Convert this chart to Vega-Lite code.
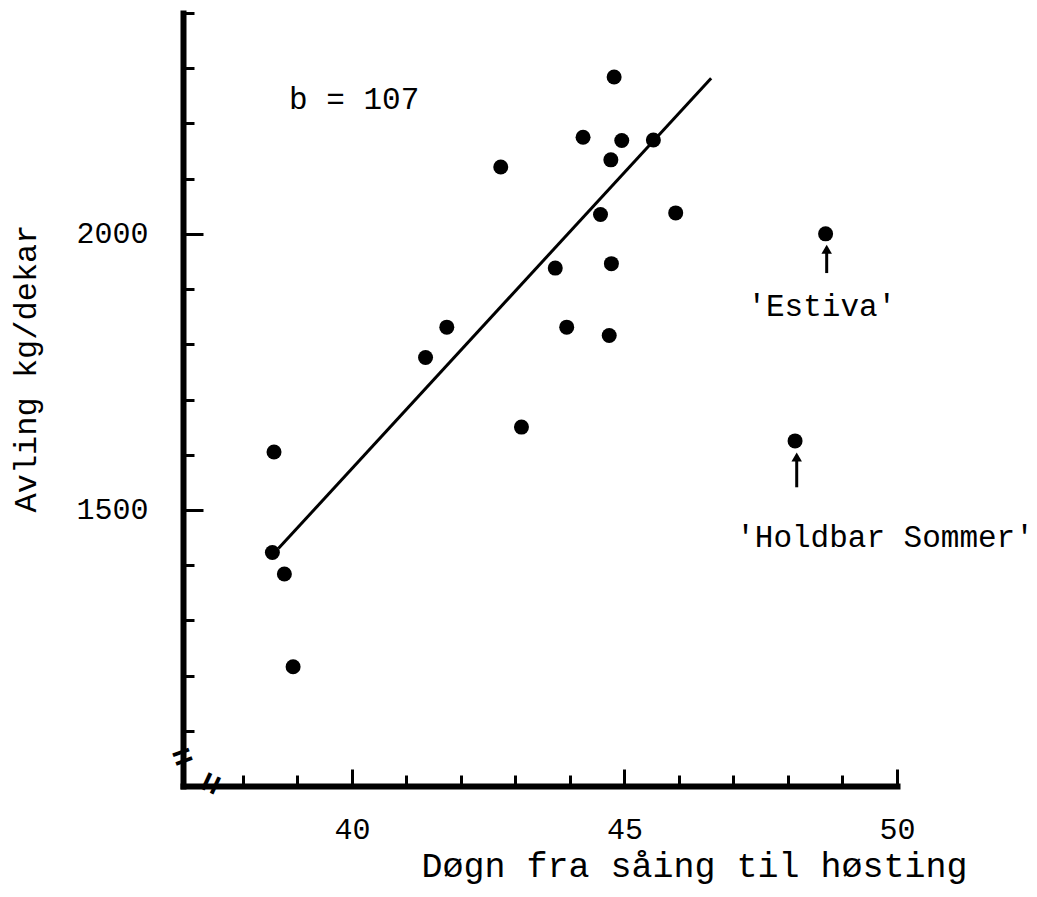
{
  "$schema": "https://vega.github.io/schema/vega-lite/v6.json",
  "width": 714,
  "height": 773,
  "autosize": {"type": "none"},
  "padding": {"left": 183, "top": 13, "right": 140, "bottom": 111},
  "background": "white",
  "config": {"view": {"stroke": null}, "font": "Liberation Mono"},
  "datasets": {
    "line": [
      {"dogn": 38.65, "avling": 1430},
      {"dogn": 46.59, "avling": 2282}
    ],
    "points": [
      {"dogn": 44.81, "avling": 2284},
      {"dogn": 44.24, "avling": 2175},
      {"dogn": 44.95, "avling": 2169},
      {"dogn": 45.53, "avling": 2170},
      {"dogn": 44.75, "avling": 2134},
      {"dogn": 42.73, "avling": 2121},
      {"dogn": 44.56, "avling": 2035},
      {"dogn": 45.94, "avling": 2038},
      {"dogn": 43.73, "avling": 1938},
      {"dogn": 44.76, "avling": 1946},
      {"dogn": 41.74, "avling": 1831},
      {"dogn": 43.94, "avling": 1831},
      {"dogn": 44.72, "avling": 1816},
      {"dogn": 41.35, "avling": 1776},
      {"dogn": 43.11, "avling": 1650},
      {"dogn": 38.57, "avling": 1605},
      {"dogn": 38.54, "avling": 1423},
      {"dogn": 38.76, "avling": 1384},
      {"dogn": 38.92, "avling": 1216},
      {"dogn": 48.69, "avling": 2000},
      {"dogn": 48.13, "avling": 1625}
    ],
    "arrows": [
      {"dogn": 48.71, "avling": 1929, "avling2": 1975},
      {"dogn": 48.16, "avling": 1541, "avling2": 1598}
    ],
    "heads": [
      {"dogn": 48.71, "avling": 1972},
      {"dogn": 48.16, "avling": 1596}
    ],
    "labels": [
      {"dogn": 40.04, "avling": 2242, "label": "b = 107"},
      {"dogn": 48.62, "avling": 1867, "label": "'Estiva'"},
      {"dogn": 49.78, "avling": 1449, "label": "'Holdbar Sommer'"}
    ],
    "ybreak": [
      {"dogn": 36.9, "avling": 1051, "label": "="}
    ],
    "xbreak": [
      {"dogn": 37.43, "avling": 1004, "label": "="}
    ]
  },
  "encoding": {
    "x": {
      "field": "dogn",
      "type": "quantitative",
      "scale": {"domain": [36.9, 50], "nice": false, "zero": false},
      "axis": {
        "title": "Døgn fra såing til høsting",
        "values": [38, 39, 40, 41, 42, 43, 44, 45, 46, 47, 48, 49, 50],
        "format": "d",
        "labelExpr": "datum.value % 5 === 0 ? datum.label : ''",
        "tickSize": {"condition": {"test": "datum.value % 5 === 0", "value": -17}, "value": -11},
        "tickWidth": 3,
        "tickColor": "black",
        "domainWidth": 6,
        "domainColor": "black",
        "domainCap": "square",
        "grid": false,
        "labelFont": "Liberation Mono",
        "labelFontSize": 30,
        "labelColor": "black",
        "labelPadding": 45,
        "labelFlush": false,
        "labelOverlap": false,
        "titleFont": "Liberation Mono",
        "titleFontSize": 35,
        "titleFontWeight": "normal",
        "titleColor": "black",
        "titleX": 511,
        "titleY": 79,
        "titleAlign": "center",
        "titleBaseline": "middle"
      }
    },
    "y": {
      "field": "avling",
      "type": "quantitative",
      "scale": {"domain": [1000, 2400], "nice": false, "zero": false},
      "axis": {
        "title": "Avling kg/dekar",
        "values": [1100, 1200, 1300, 1400, 1500, 1600, 1700, 1800, 1900, 2000, 2100, 2200, 2300, 2400],
        "format": "d",
        "labelExpr": "datum.value % 500 === 0 ? datum.label : ''",
        "tickSize": {"condition": {"test": "datum.value % 500 === 0", "value": -20}, "value": -11},
        "tickWidth": 3,
        "tickColor": "black",
        "domainWidth": 6,
        "domainColor": "black",
        "domainCap": "square",
        "grid": false,
        "labelFont": "Liberation Mono",
        "labelFontSize": 30,
        "labelColor": "black",
        "labelPadding": 55,
        "labelFlush": false,
        "labelOverlap": false,
        "titleFont": "Liberation Mono",
        "titleFontSize": 32,
        "titleFontWeight": "normal",
        "titleColor": "black",
        "titleX": -158,
        "titleY": 355,
        "titleAngle": -90,
        "titleAlign": "center",
        "titleBaseline": "middle"
      }
    }
  },
  "layer": [
    {
      "data": {"name": "line"},
      "mark": {"type": "line", "color": "black", "strokeWidth": 3},
      "encoding": {}
    },
    {
      "data": {"name": "points"},
      "mark": {"type": "point", "shape": "circle", "filled": true, "size": 225, "color": "black", "opacity": 1}
    },
    {
      "data": {"name": "arrows"},
      "mark": {"type": "rule", "color": "black", "strokeWidth": 3},
      "encoding": {"y2": {"field": "avling2"}}
    },
    {
      "data": {"name": "heads"},
      "mark": {"type": "point", "shape": "triangle-up", "filled": true, "size": 110, "color": "black", "opacity": 1}
    },
    {
      "data": {"name": "labels"},
      "mark": {"type": "text", "font": "Liberation Mono", "fontSize": 31, "color": "black", "align": "center", "baseline": "middle"},
      "encoding": {"text": {"field": "label"}}
    },
    {
      "data": {"name": "ybreak"},
      "mark": {"type": "text", "font": "Liberation Mono", "fontSize": 34, "fontWeight": "bold", "color": "black", "align": "center", "baseline": "middle", "angle": -20},
      "encoding": {"text": {"field": "label"}}
    },
    {
      "data": {"name": "xbreak"},
      "mark": {"type": "text", "font": "Liberation Mono", "fontSize": 36, "fontWeight": "bold", "color": "black", "align": "center", "baseline": "middle", "angle": -65},
      "encoding": {"text": {"field": "label"}}
    }
  ]
}
